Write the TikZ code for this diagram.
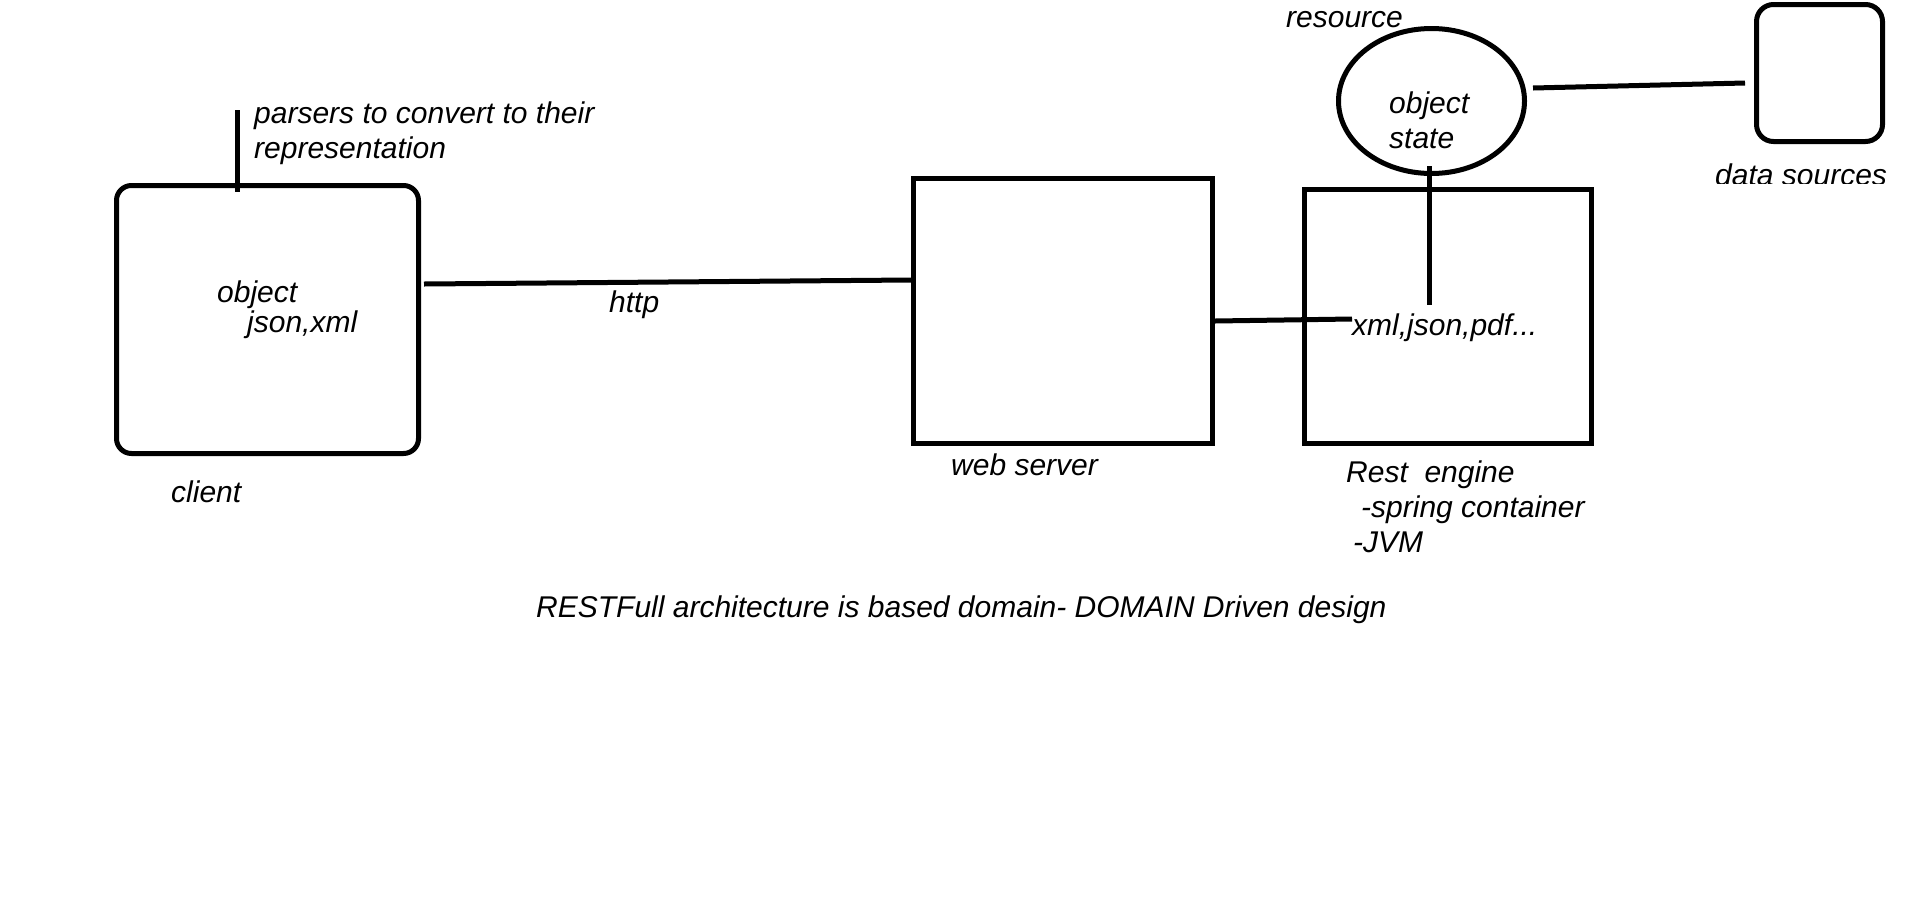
\documentclass[tikz,border=0pt]{standalone}
\usepackage{fontspec}
\setmainfont{Liberation Sans}
\usetikzlibrary{shapes.geometric}
\begin{document}
\begin{tikzpicture}[x=1pt,y=-1pt,
  lbl/.style={font=\fontsize{30}{34}\selectfont\itshape, inner sep=0pt, anchor=base west},
  boxline/.style={draw, line width=5pt, inner sep=0pt},
  conn/.style={line width=5pt}]
\useasboundingbox (0,0) rectangle (1914,903);
\fill[white] (0,0) rectangle (1914,903);

% boxes
\node[boxline, rounded corners=15pt, minimum width=302pt, minimum height=268pt] (client) at (267.5,319.5) {};
\node[boxline, minimum width=299pt, minimum height=265pt] (web) at (1063,311) {};
\node[boxline, minimum width=287pt, minimum height=254pt] (rest) at (1448,316.5) {};
\node[boxline, rounded corners=17pt, minimum width=126pt, minimum height=137pt] (data) at (1819.5,73) {};
\node[boxline, ellipse, minimum width=186pt, minimum height=145pt] (res) at (1431.5,101) {};

% labels
\node[lbl] (parsers) at (254,123) {parsers to convert to their};
\node[lbl] (repr) at (254,158) {representation};
\node[lbl] (cobj) at (217,302) {object};
\node[lbl] (cjson) at (247,332) {json,xml};
\node[lbl] (clientlbl) at (171,502) {client};
\node[lbl] (http) at (609,312) {http};
\node[lbl] (weblbl) at (951,475) {web server};
\node[lbl] (xml) at (1352,335) {xml,json,pdf...};
\node[lbl] (rest1) at (1346,482) {Rest\ \ engine};
\node[lbl] (rest2) at (1361,517) {-spring container};
\node[lbl] (rest3) at (1353,552) {-JVM};
\node[lbl] (resource) at (1286,27) {resource};
\node[lbl] (robj) at (1389,113) {object};
\node[lbl] (rstate) at (1389,148) {state};
\begin{scope}
  \clip (1700,140) rectangle (1914,183);
  \node[lbl] (dsrc) at (1715,185) {data sources};
\end{scope}
\node[lbl] (caption) at (536,617) {RESTFull architecture is based domain- DOMAIN Driven design};

% connectors
\coordinate (ptop) at (237,110);
\coordinate (vend) at (1429,305);
\draw[conn] (ptop) -- ([xshift=-30.5pt,yshift=-9pt]client.north);
\draw[conn] ([xshift=3pt,yshift=35.5pt]client.east) -- ([yshift=31pt]web.west);
\draw[conn] ([yshift=-10pt]web.east) -- ([yshift=16pt]xml.base west);
\draw[conn] ([xshift=-2.5pt,yshift=10pt]res.south) -- (vend);
\draw[conn] ([xshift=6pt,yshift=13pt]res.east) -- ([xshift=-9pt,yshift=-10pt]data.west);
\end{tikzpicture}
\end{document}
